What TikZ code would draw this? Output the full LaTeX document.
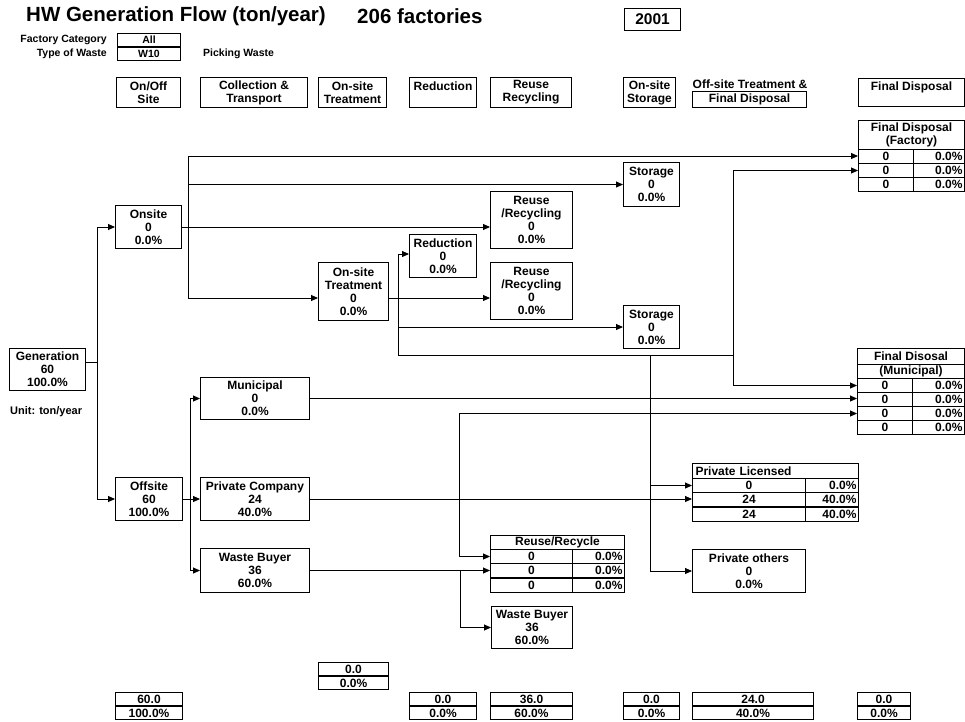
\documentclass[tikz,border=0pt]{standalone}
\usepackage{fontspec}
\setmainfont{Liberation Sans}
\usetikzlibrary{arrows.meta}
\newcommand{\cellfont}{\fontsize{12}{13}\selectfont\bfseries}
\newcommand{\tinyfont}{\fontsize{10.5}{12}\selectfont\bfseries}
\tikzset{
  >={Triangle[length=7pt, width=6pt]},
  box/.style={draw, line width=1pt, anchor=north west, inner sep=0pt, align=center, font=\cellfont},
  pct/.style={box, align=right, inner xsep=2pt, text width=#1},
  flow/.style={->, line width=0.9pt},
  lbl/.style={font=\tinyfont, inner sep=0pt},
}
\begin{document}
\begin{tikzpicture}[x=1pt, y=-1pt]
  \useasboundingbox (0,0) rectangle (965,721);

  % Heading and selection
  \node[anchor=west, inner sep=0pt, font=\fontsize{20.5}{23}\selectfont\bfseries] (title) at (26,16) {HW Generation Flow (ton/year)};
  \node[anchor=west, inner sep=0pt, font=\fontsize{20.5}{23}\selectfont\bfseries] (nfact) at (357,16) {206 factories};
  \node[box, minimum width=56pt, minimum height=22pt, font=\fontsize{15.5}{17}\selectfont\bfseries] (year) at (624,8) {2001};
  \node[lbl, anchor=east] (lblcat) at (107,40) {Factory Category};
  \node[lbl, anchor=east] (lbltype) at (107,54) {Type of Waste};
  \node[box, font=\tinyfont, minimum width=63pt, minimum height=13pt] (selcat) at (117,33) {All};
  \node[box, font=\tinyfont, minimum width=63pt, minimum height=13pt] (seltype) at (117,47) {W10};
  \node[lbl, anchor=west] (wname) at (203,54) {Picking Waste};

  % Column heads
  \node[box, minimum width=64pt, minimum height=30pt] (hdsite) at (116,77) {On/Off\\Site};
  \node[box, minimum width=107pt, minimum height=30pt] (hdcoll) at (200,77) {Collection \&\\Transport};
  \node[box, minimum width=68pt, minimum height=30pt] (hdtreat) at (318,77) {On-site\\Treatment};
  \node[box, minimum width=67pt, minimum height=30pt] (hdred) at (409,77) {Reduction\\~};
  \node[box, minimum width=81pt, minimum height=30pt] (hdreuse) at (490,77) {Reuse\\Recycling};
  \node[box, minimum width=52pt, minimum height=30pt] (hdstore) at (623,77) {On-site\\Storage};
  \node[box, minimum width=114pt, minimum height=16pt] (hdoff) at (692,91) {Final Disposal};
  \node[lbl, font=\cellfont] (hdofftop) at (750,84) {Off-site Treatment \&};
  \node[box, minimum width=106pt, minimum height=28pt] (hdfinal) at (858,78) {Final Disposal\\~};

  % Flow boxes
  \node[box, minimum width=76pt, minimum height=42pt] (gen) at (9,348) {Generation\\60\\100.0\%};
  \node[lbl, anchor=west, font=\fontsize{11}{12}\selectfont\bfseries] (unit) at (10,412) {Unit: ton/year};
  \node[box, minimum width=66pt, minimum height=43pt] (onsite) at (115,205) {Onsite\\0\\0.0\%};
  \node[box, minimum width=67pt, minimum height=43pt] (offsite) at (115,477) {Offsite\\60\\100.0\%};
  \node[box, minimum width=109pt, minimum height=42pt] (muni) at (200,377) {Municipal\\0\\0.0\%};
  \node[box, minimum width=109pt, minimum height=43pt] (pcomp) at (200,477) {Private Company\\24\\40.0\%};
  \node[box, minimum width=109pt, minimum height=44pt] (wbuy) at (200,548) {Waste Buyer\\36\\60.0\%};
  \node[box, minimum width=70pt, minimum height=58pt] (ontreat) at (318,262) {On-site\\Treatment\\0\\0.0\%};
  \node[box, minimum width=67pt, minimum height=43pt] (reduc) at (409,234) {Reduction\\0\\0.0\%};
  \node[box, minimum width=82pt, minimum height=57pt] (reuse1) at (490,191) {Reuse\\/Recycling\\0\\0.0\%};
  \node[box, minimum width=82pt, minimum height=57pt] (reuse2) at (490,262) {Reuse\\/Recycling\\0\\0.0\%};
  \node[box, minimum width=56pt, minimum height=44pt] (store1) at (623,162) {Storage\\0\\0.0\%};
  \node[box, minimum width=56pt, minimum height=43pt] (store2) at (623,305) {Storage\\0\\0.0\%};
  \node[box, minimum width=113pt, minimum height=43pt] (pothers) at (692,549) {Private others\\0\\0.0\%};
  \node[box, minimum width=81pt, minimum height=42pt] (wbuy2) at (491,606) {Waste Buyer\\36\\60.0\%};

  % Final Disposal (Factory)
  \node[box, minimum width=106pt, minimum height=29pt] (fdfhead) at (858,120) {Final Disposal\\(Factory)};
  \foreach \r/\y in {1/149,2/163,3/177} {
    \node[box, minimum width=55pt, minimum height=14pt] (fdf\r) at (858,\y) {0};
    \node[pct=47pt, minimum height=14pt] (fdfp\r) at (913,\y) {0.0\%};
  }

  % Final Disosal (Municipal)
  \node[box, minimum width=107pt, minimum height=16pt] (fdmhead) at (857,348) {Final Disosal};
  \node[box, minimum width=107pt, minimum height=14pt] (fdmsub) at (857,364) {(Municipal)};
  \foreach \r/\y in {1/378,2/392,3/406,4/420} {
    \node[box, minimum width=55pt, minimum height=14pt] (fdm\r) at (857,\y) {0};
    \node[pct=48pt, minimum height=14pt] (fdmp\r) at (912,\y) {0.0\%};
  }

  % Private Licensed
  \node[box, align=left, inner xsep=3pt, text width=160pt, minimum height=15pt] (plhead) at (692,463) {Private Licensed};
  \foreach \r/\y/\v/\p in {1/478/0/0.0, 2/492/24/40.0, 3/507/24/40.0} {
    \node[box, minimum width=113pt, minimum height=14pt] (pl\r) at (692,\y) {\v};
    \node[pct=49pt, minimum height=14pt] (plp\r) at (805,\y) {\p\%};
  }

  % Reuse/Recycle
  \node[box, minimum width=134pt, minimum height=14pt] (rrhead) at (490,535) {Reuse/Recycle};
  \foreach \r/\y in {1/549,2/563,3/578} {
    \node[box, minimum width=82pt, minimum height=14pt] (rr\r) at (490,\y) {0};
    \node[pct=48pt, minimum height=14pt] (rrp\r) at (572,\y) {0.0\%};
  }

  % Totals per column
  \foreach \n/\x/\y/\w/\v/\p in {site/115/692/67/60.0/100.0, treat/318/662/70/0.0/0.0,
      red/409/692/67/0.0/0.0, reuse/490/692/82/36.0/60.0, store/623/692/56/0.0/0.0,
      off/692/692/121/24.0/40.0, final/857/692/53/0.0/0.0} {
    \node[box, minimum width=\w pt, minimum height=13pt] (sum\n) at (\x,\y) {\v};
    \node[box, minimum width=\w pt, minimum height=13pt, anchor=north west] (sump\n) at (sum\n.south west) {\p\%};
  }

  % Generation split
  \coordinate (gsplit) at (97,362);
  \draw[line width=0.9pt] (gsplit -| gen.east) -- (gsplit);
  \draw[flow] (gsplit) |- (onsite.west);
  \draw[flow] (gsplit) |- (offsite.west);

  % Onsite
  \coordinate (otop) at (188,156);
  \coordinate (obot) at (188,298);
  \draw[line width=0.9pt] (otop) -- (obot);
  \draw[flow] (otop) -- (otop -| fdf1.west);
  \draw[flow] (store1.west -| otop) -- (store1.west);
  \draw[flow] (onsite.east) -- (onsite.east -| reuse1.west);
  \draw[flow] (obot) -- (obot -| ontreat.west);

  % On-site treatment
  \coordinate (ttop) at (398,254);
  \coordinate (tbot) at (398,355);
  \draw[line width=0.9pt] (ttop) -- (tbot);
  \draw[flow] (ttop) -- (ttop -| reduc.west);
  \draw[flow] (obot -| ontreat.east) -- (obot -| reuse2.west);
  \draw[flow] (store2.west -| ttop) -- (store2.west);
  \coordinate (fjoin) at (733,355);
  \coordinate (pjoin) at (650,355);
  \draw[line width=0.9pt] (tbot) -- (fjoin);
  \draw[flow] (fjoin) |- (fdf2.west);
  \draw[flow] (fjoin) |- (fdm1.west);
  \draw[flow] (pjoin) |- (pl1.west);
  \draw[flow] (pjoin) |- (pothers.west);

  % Offsite
  \draw[flow] (offsite.east) -- (offsite.east -| pcomp.west);
  \coordinate (xsplit) at (190,398);
  \draw[flow] (xsplit) |- (muni.west);
  \draw[flow] (xsplit |- wbuy.west) -- (wbuy.west);
  \draw[line width=0.9pt] (xsplit) -- (xsplit |- wbuy.west);
  \draw[flow] (muni.east) -- (muni.east -| fdm2.west);
  \draw[flow] (pcomp.east) -- (pcomp.east -| pl2.west);
  \coordinate (cjoin) at (459,499);
  \draw[flow] (cjoin) |- (fdm3.west);
  \draw[flow] (cjoin) |- (rr1.west);
  \draw[flow] (wbuy.east) -- (wbuy.east -| rr2.west);
  \coordinate (bjoin) at (460,570);
  \draw[flow] (bjoin) |- (wbuy2.west);
\end{tikzpicture}
\end{document}
